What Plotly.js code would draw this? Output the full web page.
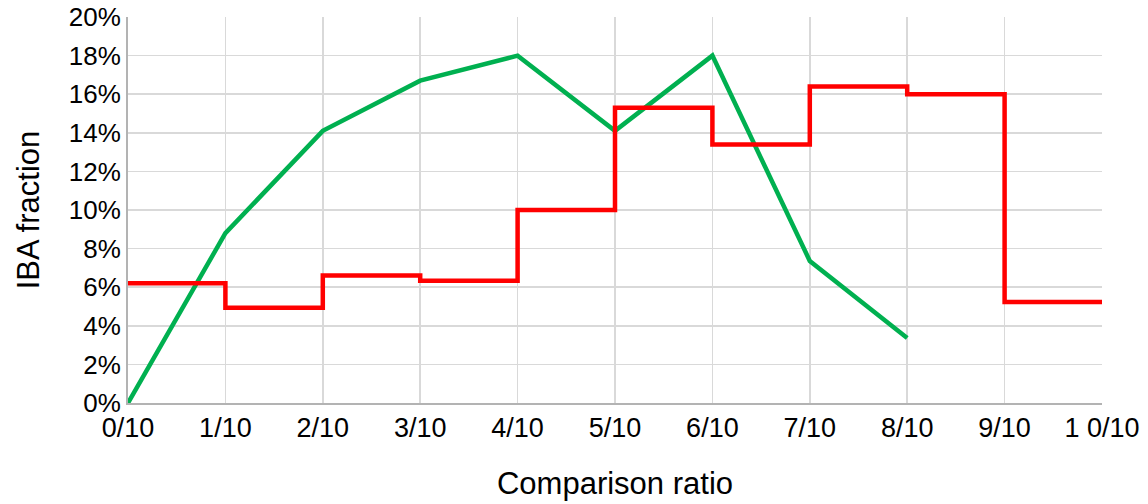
<!DOCTYPE html>
<html>
<head>
<meta charset="utf-8">
<script src="https://cdn.plot.ly/plotly-3.0.1.min.js"></script>
<style>html,body{margin:0;padding:0;background:#fff;}#chart{width:1148px;height:504px;}</style>
</head>
<body>
<div id="chart"></div>
<script>
const xPositions = [0, 1, 2, 3, 4, 5, 6, 7, 8, 9, 10];
const tickLabels = ["0/10", "1/10", "2/10", "3/10", "4/10", "5/10", "6/10", "7/10", "8/10", "9/10", "1 0/10"];
const greenX = [0, 1, 2, 3, 4, 5, 6, 7, 8];
const greenValues = [0.0, 0.088, 0.141, 0.167, 0.180, 0.141, 0.180, 0.0736, 0.0337];
const redX = [0, 1, 2, 3, 4, 5, 6, 7, 8, 9, 10];
const redValues = [0.062, 0.0494, 0.066, 0.0634, 0.100, 0.153, 0.134, 0.164, 0.160, 0.0523, 0.0523];

const traces = [
  {x: greenX, y: greenValues, type: 'scatter', mode: 'lines',
   line: {color: '#00b050', width: 4.5}, name: 'green'},
  {x: redX, y: redValues, type: 'scatter', mode: 'lines',
   line: {color: '#ff0000', width: 4.5, shape: 'hv'}, name: 'red'}
];

const layout = {
  width: 1148, height: 504,
  margin: {l: 128, r: 46, t: 17, b: 101},
  paper_bgcolor: '#ffffff', plot_bgcolor: '#ffffff',
  showlegend: false,
  font: {family: 'Liberation Sans, Arial, sans-serif', color: '#000000'},
  xaxis: {
    range: [0, 10], tickvals: xPositions, ticktext: tickLabels,
    showgrid: true, gridcolor: '#d9d9d9', gridwidth: 1.5,
    showline: true, linecolor: '#b3b3b3', linewidth: 2,
    zeroline: false, ticks: '', tickfont: {size: 27},
    title: {text: 'Comparison ratio', font: {size: 31}, standoff: 30}
  },
  yaxis: {
    range: [0, 0.2], dtick: 0.02, tick0: 0, tickformat: '.0%',
    showgrid: true, gridcolor: '#d9d9d9', gridwidth: 1.5,
    showline: true, linecolor: '#b3b3b3', linewidth: 2,
    zeroline: false, ticks: '', tickfont: {size: 26},
    title: {text: 'IBA fraction', font: {size: 31}, standoff: 20}
  }
};

Plotly.newPlot('chart', traces, layout, {displayModeBar: false, staticPlot: true});
</script>
</body>
</html>
